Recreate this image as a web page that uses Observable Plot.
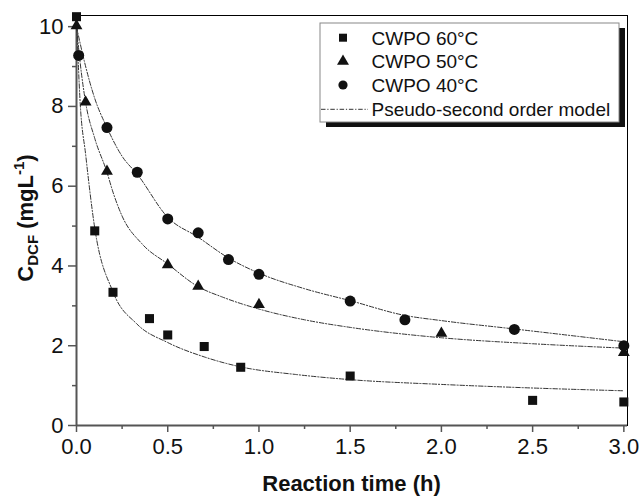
<!DOCTYPE html>
<html>
<head>
<meta charset="utf-8">
<script src="https://cdn.jsdelivr.net/npm/d3@7"></script>
<script src="https://cdn.jsdelivr.net/npm/@observablehq/plot@0.6"></script>
<style>
  html, body { margin: 0; padding: 0; background: #fff; }
  #chart { width: 641px; height: 496px; }
</style>
</head>
<body>
<div id="chart"></div>
<script>
// ---- data ----
const t60 = [0, 0.1, 0.2, 0.4, 0.5, 0.7, 0.9, 1.5, 2.5, 3.0];
const c60 = [10.25, 4.88, 3.34, 2.68, 2.27, 1.98, 1.46, 1.24, 0.63, 0.59];

const t50 = [0, 0.05, 0.167, 0.5, 0.667, 1.0, 2.0, 3.0];
const c50 = [10.02, 8.11, 6.37, 4.03, 3.49, 3.03, 2.31, 1.83];

const t40 = [0.012, 0.167, 0.333, 0.5, 0.667, 0.833, 1.0, 1.5, 1.8, 2.4, 3.0];
const c40 = [9.28, 7.47, 6.35, 5.18, 4.83, 4.16, 3.79, 3.12, 2.65, 2.41, 2.0];

// pseudo-second order model curves
const mt60 = [0, 0.02, 0.05, 0.1, 0.2, 0.33, 0.5, 0.7, 0.9, 1.2, 1.5, 2.0, 2.5, 3.0];
const mc60 = [10.2, 8.1, 6.8, 4.95, 3.35, 2.55, 2.08, 1.72, 1.47, 1.28, 1.15, 1.03, 0.94, 0.87];

const mt50 = [0, 0.02, 0.05, 0.1, 0.167, 0.2, 0.25, 0.36, 0.5, 0.667, 0.8, 1.0, 1.25, 1.5, 2.0, 2.5, 3.0];
const mc50 = [10.0, 9.1, 8.1, 7.2, 6.35, 5.85, 5.25, 4.55, 4.05, 3.48, 3.22, 2.92, 2.65, 2.46, 2.2, 2.05, 1.94];

const mt40 = [0, 0.042, 0.1, 0.167, 0.25, 0.333, 0.5, 0.667, 0.833, 1.0, 1.25, 1.5, 1.8, 2.0, 2.4, 3.0];
const mc40 = [10.0, 9.15, 8.2, 7.47, 6.75, 6.3, 5.22, 4.72, 4.2, 3.82, 3.43, 3.13, 2.76, 2.63, 2.42, 2.1];

const xMajor = [0, 0.5, 1, 1.5, 2, 2.5, 3];
const xMinor = [0.25, 0.75, 1.25, 1.75, 2.25, 2.75];
const yMajor = [0, 2, 4, 6, 8, 10];
const yMinor = [1, 3, 5, 7, 9];

const legendLabels = ["CWPO 60°C", "CWPO 50°C", "CWPO 40°C", "Pseudo-second order model"];
const xTitle = "Reaction time (h)";

// ---- build tables ----
const zip = (ts, cs) => ts.map((t, i) => ({t, c: cs[i]}));
const d60 = zip(t60, c60), d50 = zip(t50, c50), d40 = zip(t40, c40);
const m60 = zip(mt60, mc60), m50 = zip(mt50, mc50), m40 = zip(mt40, mc40);

const FONT = "'Liberation Sans', Arial, Helvetica, sans-serif";
const dash = "4.5,1.8,1.2,1.8";
const lineOpts = {x: "t", y: "c", curve: "monotone-x", stroke: "#333", strokeWidth: 1, strokeDasharray: dash};

const chart = Plot.plot({
  width: 641,
  height: 496,
  marginLeft: 76,
  marginRight: 14,
  marginTop: 15,
  marginBottom: 71,
  style: {fontFamily: FONT, fontSize: "22px", color: "#111", background: "#fff"},
  x: {domain: [0, 3.02]},
  y: {domain: [0, 10.28]},
  marks: [
    Plot.frame({stroke: "#000", strokeWidth: 1}),
    Plot.axisX({ticks: xMajor, tickSize: 7, tickPadding: 6, tickFormat: d => d.toFixed(1), stroke: "#555", strokeWidth: 1.5, label: null}),
    Plot.axisX({ticks: xMinor, tickSize: 4, text: null, stroke: "#555", strokeWidth: 1.5, label: null}),
    Plot.axisY({ticks: yMajor, tickSize: 8, tickPadding: 5, tickFormat: d => String(d), stroke: "#555", strokeWidth: 1.5, label: null}),
    Plot.axisY({ticks: yMinor, tickSize: 4, text: null, stroke: "#555", strokeWidth: 1.5, label: null}),
    Plot.ruleX([0], {stroke: "#555", strokeWidth: 2}),
    Plot.ruleY([0], {stroke: "#555", strokeWidth: 2}),
    Plot.line(m60, lineOpts),
    Plot.line(m50, lineOpts),
    Plot.line(m40, lineOpts),
    Plot.dot(d60, {x: "t", y: "c", symbol: "square", r: 5.1, fill: "#111", stroke: "none"}),
    Plot.dot(d50, {x: "t", y: "c", symbol: "triangle", r: 4.4, fill: "#111", stroke: "none"}),
    Plot.dot(d40, {x: "t", y: "c", symbol: "circle", r: 5.5, fill: "#111", stroke: "none"})
  ]
});

document.getElementById("chart").appendChild(chart);

// ---- titles & legend added into the same SVG ----
const svg = d3.select(chart);

svg.append("text")
  .attr("x", 351.5).attr("y", 491)
  .attr("text-anchor", "middle")
  .attr("font-family", FONT).attr("font-size", 22).attr("font-weight", "bold")
  .attr("fill", "#111")
  .text(xTitle);

const yt = svg.append("text")
  .attr("transform", "translate(32.5,218) rotate(-90)")
  .attr("text-anchor", "middle")
  .attr("font-family", FONT).attr("font-size", 22).attr("font-weight", "bold")
  .attr("fill", "#111");
yt.append("tspan").text("C");
yt.append("tspan").attr("font-size", 15).attr("dy", 5).text("DCF");
yt.append("tspan").attr("dy", -5).text(" (mgL");
yt.append("tspan").attr("font-size", 15).attr("dy", -9).text("-1");
yt.append("tspan").attr("dy", 9).text(")");

const lg = svg.append("g");
const bx = 320, by = 23, bw = 299, bh = 99;
lg.append("rect").attr("x", bx + 6).attr("y", by + 5).attr("width", bw).attr("height", bh)
  .style("fill", "#111").style("stroke", "none");
lg.append("rect").attr("x", bx).attr("y", by).attr("width", bw).attr("height", bh)
  .style("fill", "#fff").style("stroke", "#888").style("stroke-width", "1px");

const rowY = [37.7, 61.3, 85, 109.3];
const sx = 343;
lg.append("rect").attr("x", sx - 4).attr("y", rowY[0] - 4).attr("width", 8).attr("height", 8).style("fill", "#111");
lg.append("path").attr("d", d3.symbol(d3.symbolTriangle, 62)()).attr("transform", `translate(${sx},${rowY[1]})`).style("fill", "#111");
lg.append("circle").attr("cx", sx).attr("cy", rowY[2]).attr("r", 4.6).style("fill", "#111");
lg.append("line").attr("x1", bx + 1).attr("x2", 368).attr("y1", rowY[3]).attr("y2", rowY[3])
  .style("stroke", "#333").style("stroke-width", "1px").style("stroke-dasharray", dash);

legendLabels.forEach((s, i) => {
  lg.append("text")
    .attr("x", 371.5).attr("y", rowY[i]).attr("dy", "0.36em")
    .attr("text-anchor", "start")
    .attr("font-family", FONT).attr("font-size", 19).style("fill", "#111")
    .text(s);
});
</script>
</body>
</html>
